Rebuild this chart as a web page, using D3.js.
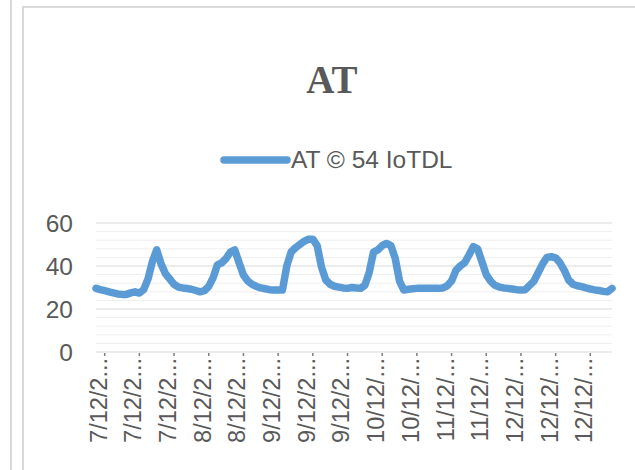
<!DOCTYPE html>
<html><head><meta charset="utf-8">
<script src="https://cdn.jsdelivr.net/npm/d3@7/dist/d3.min.js"></script>
<style>body{margin:0;background:#fff}svg{display:block}</style>
</head><body>
<svg id="c" width="635" height="470"></svg>
<script>
const title = "AT";
const seriesName = "AT © 54 IoTDL";
const values = [29.6,29,28.5,28,27.5,27,26.8,26.8,27.5,28,27.4,29,34,42,47.5,41,36.5,34,31.5,30.2,
29.8,29.5,29.2,28.6,28,28.5,30.5,34.5,40.5,41.5,43.5,46.5,47.5,41.5,35.8,33,31.5,30.5,29.8,29.4,
29,28.8,28.8,28.8,40,46.5,48.5,50,51.5,52.5,52.5,49.5,39.5,33.5,31.5,30.6,30.2,29.8,29.6,30,
29.8,29.6,31,37,46.5,47.5,49.5,50.5,49.5,43.6,33,28.8,29.2,29.4,29.6,29.6,29.6,29.6,29.6,29.6,
29.8,30.8,33,38,40,41.5,45,49,48,42,36,33,31,30.2,29.8,29.6,29.3,29,28.8,29,
31,33,37,41,44,44.3,43.8,41.5,38,33.5,31.5,30.8,30.4,29.8,29.3,28.9,28.6,28.2,28,29.6];
const tickLabels = ["7/12/2...","7/12/2...","7/12/2...","8/12/2...","8/12/2...","9/12/2...","9/12/2...","9/12/2...",
"10/12/...","10/12/...","11/12/...","11/12/...","12/12/...","12/12/...","12/12/..."];
const tickIndex = [2,10,18,26,34,42,50,58,66,74,82,90,98,106,114];
const yTicks = [0,20,40,60];
const yMinor = d3.range(0,61,4);

const svg = d3.select("#c");
const font = "'Liberation Sans', Arial, sans-serif";
const gray = "#595959";
const blue = "#5b9bd5";

// frame
svg.append("line").attr("x1",11).attr("x2",11).attr("y1",0).attr("y2",470).attr("stroke","#d9d9d9").attr("stroke-width",2);
svg.append("rect").attr("x",23).attr("y",7).attr("width",640).attr("height",480).attr("fill","none").attr("stroke","#d9d9d9").attr("stroke-width",2);

const x = d3.scaleLinear().domain([0, values.length-1]).range([96, 612]);
const y = d3.scaleLinear().domain([0, 60]).range([352, 223]);

// minor gridlines
svg.append("g").selectAll("line").data(yMinor.filter(v=>v%20!==0)).join("line")
  .attr("x1",96).attr("x2",612).attr("y1",d=>y(d)).attr("y2",d=>y(d))
  .attr("stroke","#eeeeee").attr("stroke-width",1);
// major
svg.append("g").selectAll("line").data(yTicks).join("line")
  .attr("x1",96).attr("x2",612).attr("y1",d=>y(d)).attr("y2",d=>y(d))
  .attr("stroke","#d9d9d9").attr("stroke-width",1);

// y labels
svg.append("g").selectAll("text").data(yTicks).join("text")
  .attr("x",73).attr("y",d=>y(d)).attr("dy","0.36em").attr("text-anchor","end")
  .attr("font-family",font).attr("font-size",24.5).attr("fill",gray).text(d=>d);

// x axis ticks & labels
const xg = svg.append("g");
xg.selectAll("line").data(tickIndex).join("line")
  .attr("x1",d=>x(d)).attr("x2",d=>x(d)).attr("y1",353).attr("y2",356)
  .attr("stroke","#7f7f7f").attr("stroke-width",1.5);
xg.selectAll("text").data(tickIndex).join("text")
  .attr("transform",d=>`translate(${x(d)+2},358) rotate(-90)`)
  .attr("text-anchor","end")
  .attr("font-family",font).attr("font-size",23.5).attr("fill",gray)
  .text((d,i)=>tickLabels[i]);

// line
svg.append("path").datum(values)
  .attr("d", d3.line().x((d,i)=>x(i)).y(d=>y(d)).curve(d3.curveLinear))
  .attr("fill","none").attr("stroke",blue).attr("stroke-width",7.5)
  .attr("stroke-linejoin","round").attr("stroke-linecap","round");

// title
svg.append("text").attr("x",332).attr("y",93).attr("text-anchor","middle")
  .attr("font-family","'Liberation Serif', 'Times New Roman', serif").attr("font-weight","bold")
  .attr("font-size",39).attr("fill",gray).text(title);

// legend
svg.append("line").attr("x1",224).attr("x2",287).attr("y1",160).attr("y2",160)
  .attr("stroke",blue).attr("stroke-width",7.5).attr("stroke-linecap","round");
svg.append("text").attr("x",291).attr("y",168).attr("font-family",font).attr("font-size",24.5)
  .attr("fill",gray).text(seriesName);
</script>
</body></html>
